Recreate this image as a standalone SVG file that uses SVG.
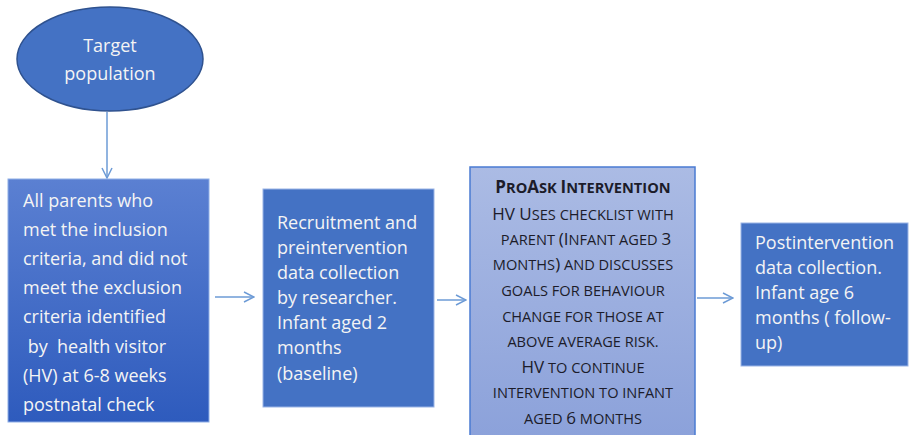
<svg xmlns="http://www.w3.org/2000/svg" width="909" height="435" viewBox="0 0 909 435">
<defs>
<linearGradient id="g1" x1="0" y1="0" x2="0" y2="1">
<stop offset="0" stop-color="#5b80d2"/>
<stop offset="1" stop-color="#2e5bbd"/>
</linearGradient>
<linearGradient id="g3" x1="0" y1="0" x2="0" y2="1">
<stop offset="0" stop-color="#abbbe4"/>
<stop offset="1" stop-color="#8ba1da"/>
</linearGradient>
<marker id="arr" viewBox="0 0 12 12" refX="11" refY="6" markerWidth="12" markerHeight="12" markerUnits="userSpaceOnUse" orient="auto">
<path d="M1,1 L11,6 L1,11" fill="none" stroke="#6d9bd6" stroke-width="1.5"/>
</marker>
<style>
.w{font-family:"Open Sans","Liberation Sans",sans-serif;font-size:18px;fill:#f4f4f4}
.sc{font-family:"Open Sans","Liberation Sans",sans-serif;font-size:14.6px;fill:#1c1c2a;text-anchor:middle}
.b{font-size:17px}
.c{fill:none;stroke:#6d9bd6;stroke-width:1.5;marker-end:url(#arr)}
</style>
</defs>
<rect width="909" height="435" fill="#ffffff"/>
<g id="connectors">
<line class="c" x1="107" y1="112" x2="107" y2="178"/>
<line class="c" x1="215" y1="297" x2="254" y2="297"/>
<line class="c" x1="437" y1="300" x2="466" y2="300"/>
<line class="c" x1="697" y1="298" x2="733" y2="298"/>
</g>
<g id="target">
<ellipse cx="110" cy="59" rx="93" ry="52" fill="#4472c4" stroke="#2f528f" stroke-width="1.5"/>
<text class="w" x="110" y="52" text-anchor="middle" font-size="19">Target</text>
<text class="w" x="110" y="80" text-anchor="middle" font-size="19">population</text>
</g>
<g id="parents">
<rect x="8" y="179" width="201" height="243" fill="url(#g1)" stroke="#8eaee6" stroke-width="1"/>
<text class="w" x="23" y="207">All parents who</text>
<text class="w" x="23" y="236">met the inclusion</text>
<text class="w" x="23" y="265">criteria, and did not</text>
<text class="w" x="23" y="294">meet the exclusion</text>
<text class="w" x="23" y="323">criteria identified</text>
<text class="w" x="23" y="353" xml:space="preserve"> by  health visitor</text>
<text class="w" x="23" y="382">(HV) at 6-8 weeks</text>
<text class="w" x="23" y="411">postnatal check</text>
</g>
<g id="recruitment">
<rect x="263" y="189" width="171" height="218" fill="#4472c4" stroke="#9ab4e6" stroke-width="1"/>
<text class="w" x="277" y="229">Recruitment and</text>
<text class="w" x="277" y="254">preintervention</text>
<text class="w" x="277" y="279">data collection</text>
<text class="w" x="277" y="304">by researcher.</text>
<text class="w" x="277" y="329">Infant aged 2</text>
<text class="w" x="277" y="354">months</text>
<text class="w" x="277" y="380">(baseline)</text>
</g>
<g id="intervention">
<rect x="470" y="167" width="225" height="275" fill="url(#g3)" stroke="#4a7bd2" stroke-width="1.5"/>
<text class="sc" x="583" y="193" font-weight="bold"><tspan class="b">P</tspan>RO<tspan class="b">A</tspan>SK <tspan class="b">I</tspan>NTERVENTION</text>
<text class="sc" x="583" y="220"><tspan class="b">HV U</tspan>SES CHECKLIST WITH</text>
<text class="sc" x="586" y="245">PARENT <tspan class="b">(I</tspan>NFANT AGED <tspan class="b">3</tspan></text>
<text class="sc" x="583" y="270">MONTHS<tspan class="b">)</tspan> AND DISCUSSES</text>
<text class="sc" x="583" y="296">GOALS FOR BEHAVIOUR</text>
<text class="sc" x="583" y="322">CHANGE FOR THOSE AT</text>
<text class="sc" x="583" y="347">ABOVE AVERAGE RISK.</text>
<text class="sc" x="583" y="373"><tspan class="b">HV</tspan> TO CONTINUE</text>
<text class="sc" x="583" y="398">INTERVENTION TO INFANT</text>
<text class="sc" x="583" y="424">AGED <tspan class="b">6</tspan> MONTHS</text>
</g>
<g id="postintervention">
<rect x="741" y="223" width="167" height="143" fill="#4472c4" stroke="#9ab4e6" stroke-width="1"/>
<text class="w" x="755" y="249">Postintervention</text>
<text class="w" x="755" y="274">data collection.</text>
<text class="w" x="755" y="299">Infant age 6</text>
<text class="w" x="755" y="324">months ( follow-</text>
<text class="w" x="755" y="349">up)</text>
</g>
</svg>
